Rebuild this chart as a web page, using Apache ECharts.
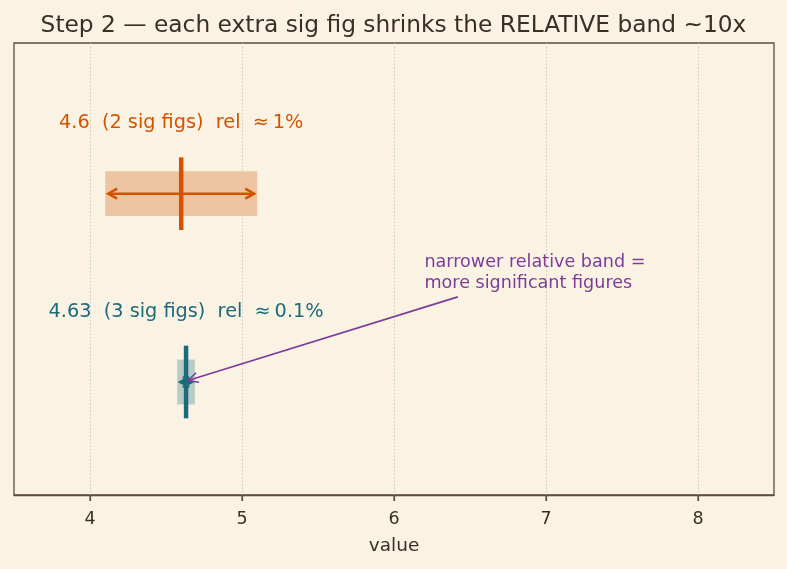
<!DOCTYPE html>
<html><head><meta charset="utf-8">
<script src="https://cdn.jsdelivr.net/npm/echarts@6/dist/echarts.min.js"></script>
<style>html,body{margin:0;padding:0;background:#faf3e4;} #c{width:787px;height:569px;}</style>
</head><body><div id="c"></div>
<script>
// ---- data ----
const chartTitle = 'Step 2 \u2014 each extra sig fig shrinks the RELATIVE band ~10x';
const xTicks = [4, 5, 6, 7, 8];
const xName = 'value';
const centers = [4.6, 4.632];
const halfWidths = [0.5, 0.058];
const rowY = [1, 0];
const rowLabels = ['4.6  (2 sig figs)  rel  \u2248\u20091%', '4.63  (3 sig figs)  rel  \u2248\u20090.1%'];
const noteText = 'narrower relative band =\nmore significant figures';
const noteTextAt = [6.2, 0.58];
const noteArrowFrom = [6.42, 0.452];
const noteArrowTo = [4.645, 0.008];

// ---- styles ----
const BG = '#faf3e4';
const INK = '#3a2f25';
const FRAME = '#5b4d3c';
const ROW_LINE = ['#d35400', '#1b6b7b'];
const ROW_BAND = ['#eec5a2', '#b8cbc5'];
const ROW_TEXT = ['#d35400', '#1b6b7b'];
const PURPLE = '#7d3c98';
const FONT = '"DejaVu Sans", sans-serif';
const BAND_HALF_H = 0.119;
const LINE_HALF_H = 0.193;
const LABEL_DY = 0.373;
const Y_MIN = -0.6, Y_MAX = 1.8;

function arrowHead(tip, dirx, diry, len, half) {
  const n = Math.hypot(dirx, diry); const ux = dirx / n, uy = diry / n;
  const bx = tip[0] - ux * len, by = tip[1] - uy * len;
  return [[bx - uy * half, by + ux * half], tip, [bx + uy * half, by - ux * half]];
}

const rowData = centers.map((c, i) => [c, rowY[i], halfWidths[i]]);

function renderRow(params, api) {
  const i = params.dataIndex;
  const cx = api.value(0), y = api.value(1), hw = api.value(2);
  const c = api.coord([cx, y]);
  const l = api.coord([cx - hw, y]);
  const r = api.coord([cx + hw, y]);
  const bTop = api.coord([cx, y + BAND_HALF_H])[1];
  const bBot = api.coord([cx, y - BAND_HALF_H])[1];
  const lTop = api.coord([cx, y + LINE_HALF_H])[1];
  const lBot = api.coord([cx, y - LINE_HALF_H])[1];
  const lab = api.coord([cx, y + LABEL_DY]);
  const inset = 3;
  const a0 = [l[0] + inset, c[1]], a1 = [r[0] - inset, c[1]];
  const headStyle = { stroke: ROW_LINE[i], lineWidth: 2.5, fill: null, lineJoin: 'miter' };
  return {
    type: 'group',
    children: [
      { type: 'rect', shape: { x: l[0], y: bTop, width: r[0] - l[0], height: bBot - bTop }, style: { fill: ROW_BAND[i] } },
      { type: 'line', shape: { x1: c[0], y1: lTop, x2: c[0], y2: lBot }, style: { stroke: ROW_LINE[i], lineWidth: 4.5 } },
      { type: 'line', shape: { x1: a0[0], y1: a0[1], x2: a1[0], y2: a1[1] }, style: { stroke: ROW_LINE[i], lineWidth: 2.5 } },
      { type: 'polyline', shape: { points: arrowHead(a0, -1, 0, 9, 5) }, style: headStyle },
      { type: 'polyline', shape: { points: arrowHead(a1, 1, 0, 9, 5) }, style: headStyle },
      { type: 'text', x: lab[0], y: lab[1], style: { text: rowLabels[i], fill: ROW_TEXT[i], font: '19.3px ' + FONT, align: 'center', verticalAlign: 'middle' } }
    ]
  };
}

function renderNote(params, api) {
  const p0 = api.coord(noteArrowFrom);
  const p1 = api.coord(noteArrowTo);
  const t = api.coord(noteTextAt);
  return {
    type: 'group',
    children: [
      { type: 'line', shape: { x1: p0[0], y1: p0[1], x2: p1[0], y2: p1[1] }, style: { stroke: PURPLE, lineWidth: 1.6 } },
      { type: 'polyline', shape: { points: arrowHead(p1, p1[0] - p0[0], p1[1] - p0[1], 10, 5) }, style: { stroke: PURPLE, lineWidth: 1.6, fill: null } },
      { type: 'text', x: t[0], y: t[1], style: { text: noteText, fill: PURPLE, font: '17.6px ' + FONT, align: 'left', verticalAlign: 'middle', lineHeight: 21 } }
    ]
  };
}

function renderTick(params, api) {
  const p = api.coord([api.value(0), Y_MIN]);
  return { type: 'line', shape: { x1: p[0], y1: p[1], x2: p[0], y2: p[1] + 6 }, style: { stroke: FRAME, lineWidth: 1.2 } };
}

const chart = echarts.init(document.getElementById('c'), null, { renderer: 'canvas' });
chart.setOption({
  backgroundColor: BG,
  animation: false,
  title: { text: chartTitle, left: 'center', top: 9, textStyle: { color: INK, fontFamily: FONT, fontSize: 23.3, fontWeight: 'normal' } },
  grid: { left: 14, right: 13, top: 43, bottom: 74, show: true, borderColor: FRAME, borderWidth: 1.3, backgroundColor: 'transparent' },
  xAxis: {
    type: 'value', min: 3.5, max: 8.5,
    name: xName, nameLocation: 'middle', nameGap: 42,
    nameTextStyle: { color: INK, fontFamily: FONT, fontSize: 18.5 },
    axisLine: { show: true, onZero: false, lineStyle: { color: FRAME, width: 1.3 } },
    axisTick: { show: true, inside: false, length: 6, lineStyle: { color: FRAME, width: 1.2 }, customValues: xTicks },
    axisLabel: { color: INK, fontFamily: FONT, fontSize: 17.5, margin: 15, customValues: xTicks },
    splitLine: { show: true, lineStyle: { color: '#cbc3b4', type: [1.5, 2], width: 0.9 } }
  },
  yAxis: { type: 'value', min: Y_MIN, max: Y_MAX, show: false, splitLine: { show: false } },
  series: [
    { type: 'custom', renderItem: renderTick, data: xTicks.map(v => [v]), clip: false, silent: true },
    { type: 'custom', renderItem: renderRow, data: rowData, clip: false, silent: true },
    { type: 'custom', renderItem: renderNote, data: [[0]], clip: false, silent: true }
  ]
});
</script>
</body></html>
